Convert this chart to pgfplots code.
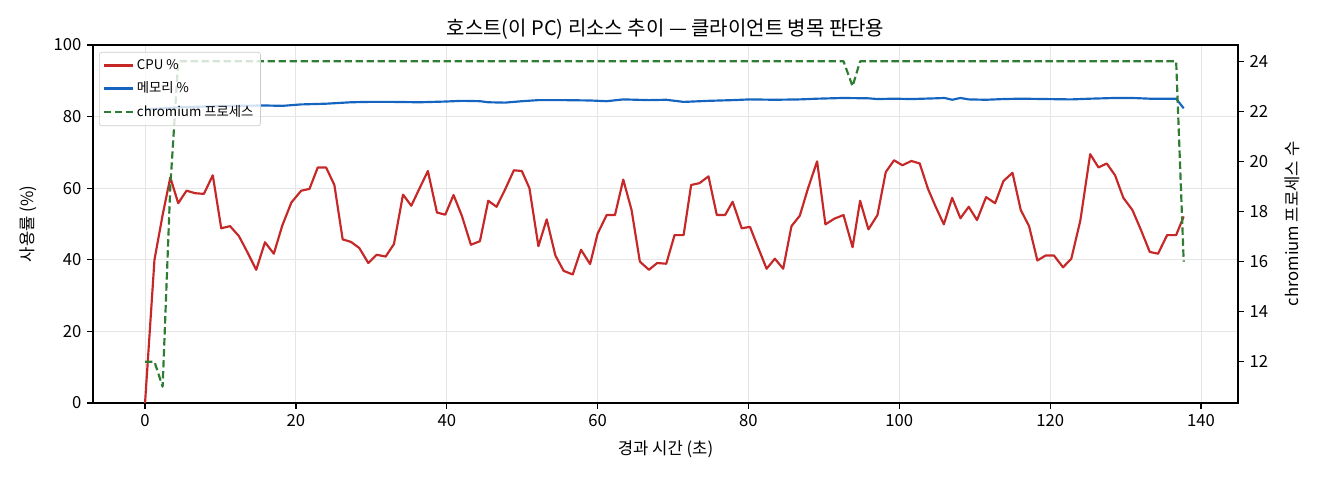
\documentclass[border=0pt]{standalone}
\usepackage{fontspec}
\setmainfont{Noto Sans CJK KR}
\usepackage{pgfplots}
\usepackage{pgfplotstable}
\pgfplotsset{compat=1.18}
\definecolor{cpured}{RGB}{198,40,40}
\definecolor{memblue}{RGB}{21,101,192}
\definecolor{procgreen}{RGB}{46,125,50}

\pgfplotstableread{
t v
0 0
1.25 40
2.33 52.5
3.35 63
4.4 55.8
5.5 59.3
6.65 58.6
7.8 58.4
8.98 63.6
10.1 48.8
11.27 49.4
12.45 46.6
13.6 42
14.74 37.2
15.9 44.9
17.07 41.7
18.2 49.6
19.4 56
20.7 59.3
21.8 59.8
22.9 65.8
24.0 65.8
25.1 60.9
26.2 45.7
27.3 45.0
28.4 43.3
29.6 39.1
30.7 41.4
31.9 40.9
33.0 44.4
34.2 58.2
35.3 55.1
36.4 60
37.5 64.8
38.7 53.2
39.8 52.6
40.9 58.1
42.0 52.3
43.2 44.2
44.4 45.2
45.5 56.5
46.6 54.8
47.7 59.5
48.9 65.0
49.95 64.8
50.96 60.0
52.15 43.8
53.25 51.3
54.4 41.2
55.5 36.9
56.7 35.9
57.8 42.8
59.0 38.8
60.0 47.3
61.2 52.5
62.3 52.5
63.4 62.4
64.5 53.9
65.6 39.5
66.8 37.2
67.9 39.1
69.1 38.9
70.2 46.9
71.4 46.9
72.4 60.9
73.5 61.4
74.7 63.3
75.8 52.5
76.9 52.5
77.9 56.2
79.1 48.8
80.2 49.2
81.3 43.3
82.4 37.5
83.5 40.3
84.6 37.5
85.7 49.4
86.8 52.3
87.9 60
89.1 67.5
90.2 49.9
91.4 51.5
92.6 52.5
93.8 43.5
94.8 56.5
95.9 48.5
97.1 52.5
98.2 64.5
99.3 67.8
100.4 66.4
101.6 67.6
102.7 66.9
103.8 59.8
104.8 54.9
105.9 49.9
107.0 57.3
108.1 51.6
109.2 54.8
110.3 51.1
111.5 57.5
112.7 55.8
113.8 62.0
115.0 64.3
116.1 53.9
117.2 49.4
118.3 39.8
119.4 41.2
120.5 41.2
121.7 37.9
122.8 40.3
124.0 51.0
125.3 69.5
126.4 65.8
127.5 66.9
128.6 63.6
129.7 57.3
130.9 53.9
132.0 48.5
133.2 42.2
134.3 41.7
135.5 46.9
136.7 46.9
137.7 52.1
}\cputable

\pgfplotstableread{
t v
0 82.0
2.3 82.3
4.4 82.6
7.8 82.8
11.3 83.0
15.9 83.1
18.2 83.0
20.7 83.4
24.0 83.6
27.3 84.0
29.6 84.1
33.0 84.1
36.4 84.0
39.8 84.2
42.0 84.4
44.4 84.3
45.5 84.0
47.7 83.9
50.0 84.3
52.15 84.6
55.5 84.6
59.0 84.5
61.2 84.3
63.4 84.8
66.8 84.6
69.1 84.7
71.4 84.1
74.7 84.4
77.9 84.6
80.2 84.8
83.5 84.7
86.8 84.8
89.1 85.0
92.6 85.2
95.9 85.1
97.1 84.9
99.3 85.0
101.6 84.9
104.8 85.1
106.0 85.2
107.0 84.7
108.1 85.2
109.2 84.8
111.5 84.7
113.8 84.9
116.1 85.0
119.4 84.9
122.8 84.8
125.3 85.0
128.6 85.2
130.9 85.2
133.2 85.0
136.7 85.0
137.7 82.3
}\memtable

\pgfplotstableread{
t v
0 12
1.25 12
2.33 11
3.35 19
4.4 24
92.6 24
93.8 23
94.8 24
136.7 24
137.7 16
}\proctable

\begin{document}
\begin{tikzpicture}
\pgfplotsset{
  common/.style={
    at={(0,0)}, anchor=south west,
    scale only axis, width=687pt, height=214.8pt,
    xmin=-6.9, xmax=144.9,
    tick align=outside,
    major tick length=3.5pt,
    tick style={black, line width=0.8pt},
    axis line style={line width=0.8pt},
    ticklabel style={font=\fontsize{10}{12}\selectfont},
    /pgf/number format/assume math mode=true,
    label style={font=\fontsize{10}{12}\selectfont},
  }
}
\begin{axis}[common, name=ax,
  ymin=0, ymax=100,
  xtick={0,20,...,140}, ytick={0,20,...,100},
  tick pos=left,
  grid=major, grid style={black!10, line width=0.6pt},
  xlabel={경과 시간 (초)}, ylabel={사용률 (\%)},
  xlabel style={at={(axis description cs:0.5,-0.1304)}, anchor=center},
  ylabel style={at={(axis description cs:-0.0568,0.5)}, anchor=center},
  title={호스트(이 PC) 리소스 추이 — 클라이언트 병목 판단용},
  title style={at={(axis description cs:0.5,1.0475)}, anchor=center, yshift=-7pt, font=\fontsize{12}{14}\selectfont},
]
\addplot[cpured, line width=1.3pt, line join=round] table[x=t, y=v] {\cputable};
\addplot[memblue, line width=1.3pt, line join=round] table[x=t, y=v] {\memtable};
\end{axis}
\begin{axis}[common,
  ymin=10.35, ymax=24.65,
  axis y line*=right, axis x line=none,
  ytick={12,14,...,24},
  ylabel={chromium 프로세스 수},
  ylabel style={at={(axis description cs:1.0472,0.5)}, anchor=center, rotate=0},
  legend cell align=left,
  legend style={at={(axis description cs:0,1)}, anchor=north west,
    xshift=3.6pt, yshift=-4.2pt, draw=black!20, fill=white, fill opacity=0.8,
    draw opacity=1, text opacity=1, rounded corners=1.5pt,
    font=\fontsize{8}{9.5}\selectfont, inner sep=2.2pt,
    row sep=2pt},
]
\addlegendimage{cpured, line width=1.3pt}
\addlegendentry{CPU \%}
\addlegendimage{memblue, line width=1.3pt}
\addlegendentry{메모리 \%}
\addplot[procgreen, line width=1.3pt, dash pattern=on 4.4pt off 2.2pt, line join=round] table[x=t, y=v] {\proctable};
\addlegendentry{chromium 프로세스}
\end{axis}
\pgfresetboundingbox
\path ([xshift=-55.8pt,yshift=-46.2pt]ax.south west) rectangle ([xshift=49.2pt,yshift=27pt]ax.north east);
\end{tikzpicture}
\end{document}
